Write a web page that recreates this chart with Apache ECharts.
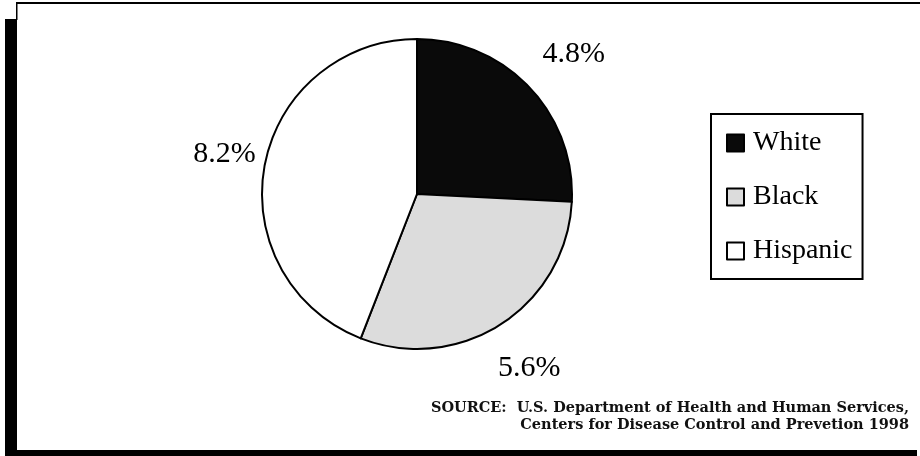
<!DOCTYPE html>
<html>
<head>
<meta charset="utf-8">
<script src="https://cdn.jsdelivr.net/npm/echarts@6/dist/echarts.min.js"></script>
<style>
html,body{margin:0;padding:0;background:#fff;}
#chart{width:920px;height:456px;}
</style>
</head>
<body>
<div id="chart"></div>
<script>
// ---- data ----
const categories = ['White', 'Black', 'Hispanic'];
const values = [4.8, 5.6, 8.2];
const valueLabels = ['4.8%', '5.6%', '8.2%'];
const sourceLines = [
  'SOURCE:  U.S. Department of Health and Human Services,',
  'Centers for Disease Control and Prevetion 1998'
];

// ---- styles ----
const sliceColors = ['#0a0a0a', '#dcdcdc', '#ffffff'];
const labelNudges = [[11, -1], [3, 5], [5, -3]];

const chart = echarts.init(document.getElementById('chart'), null, {renderer: 'canvas'});

const pieData = categories.map((c, i) => ({
  name: c, value: values[i], itemStyle: {color: sliceColors[i]}
}));
const labelData = categories.map((c, i) => ({
  name: c, value: values[i], label: {formatter: valueLabels[i], offset: labelNudges[i]}
}));

const option = {
  animation: false,
  backgroundColor: '#ffffff',
  legend: {
    data: categories,
    orient: 'vertical',
    left: 711,
    top: 114,
    padding: [15, 10, 14, 15],
    borderColor: '#000',
    borderWidth: 2,
    backgroundColor: '#fff',
    icon: 'rect',
    itemWidth: 17,
    itemHeight: 17,
    itemGap: 26,
    selectedMode: false,
    itemStyle: {borderColor: '#000', borderWidth: 2},
    textStyle: {
      fontFamily: '"Liberation Serif", serif',
      fontSize: 28,
      lineHeight: 27,
      color: '#000',
      padding: [0, 0, 0, 4]
    }
  },
  graphic: [
    {type: 'rect', shape: {x: 16, y: 2, width: 904, height: 2}, style: {fill: '#000'}, silent: true},
    {type: 'rect', shape: {x: 16, y: 2, width: 1.5, height: 18}, style: {fill: '#000'}, silent: true},
    {type: 'rect', shape: {x: 5, y: 19, width: 12, height: 437}, style: {fill: '#000'}, silent: true},
    {type: 'rect', shape: {x: 5, y: 450, width: 912, height: 6}, style: {fill: '#000'}, silent: true},
    {
      type: 'text', x: 909, y: 408, silent: true,
      style: {text: sourceLines[0], align: 'right', verticalAlign: 'middle',
        font: 'bold 14.5px "DejaVu Serif", serif', fill: '#111'}
    },
    {
      type: 'text', x: 909, y: 425, silent: true,
      style: {text: sourceLines[1], align: 'right', verticalAlign: 'middle',
        font: 'bold 14.5px "DejaVu Serif", serif', fill: '#111'}
    }
  ],
  series: [
    {
      name: 'share',
      type: 'pie',
      center: [417, 194],
      radius: [0, 155],
      startAngle: 90,
      clockwise: true,
      silent: true,
      label: {show: false},
      labelLine: {show: false},
      itemStyle: {borderColor: '#000', borderWidth: 2},
      emphasis: {disabled: true},
      data: pieData
    },
    {
      name: 'labels',
      type: 'pie',
      center: [417, 194],
      radius: [184, 212],
      startAngle: 90,
      clockwise: true,
      silent: true,
      itemStyle: {color: 'rgba(0,0,0,0)', borderWidth: 0},
      label: {
        show: true,
        position: 'inside',
        fontFamily: '"Liberation Serif", serif',
        fontSize: 30,
        color: '#000'
      },
      labelLine: {show: false},
      emphasis: {disabled: true},
      data: labelData
    }
  ]
};
chart.setOption(option);
</script>
</body>
</html>
